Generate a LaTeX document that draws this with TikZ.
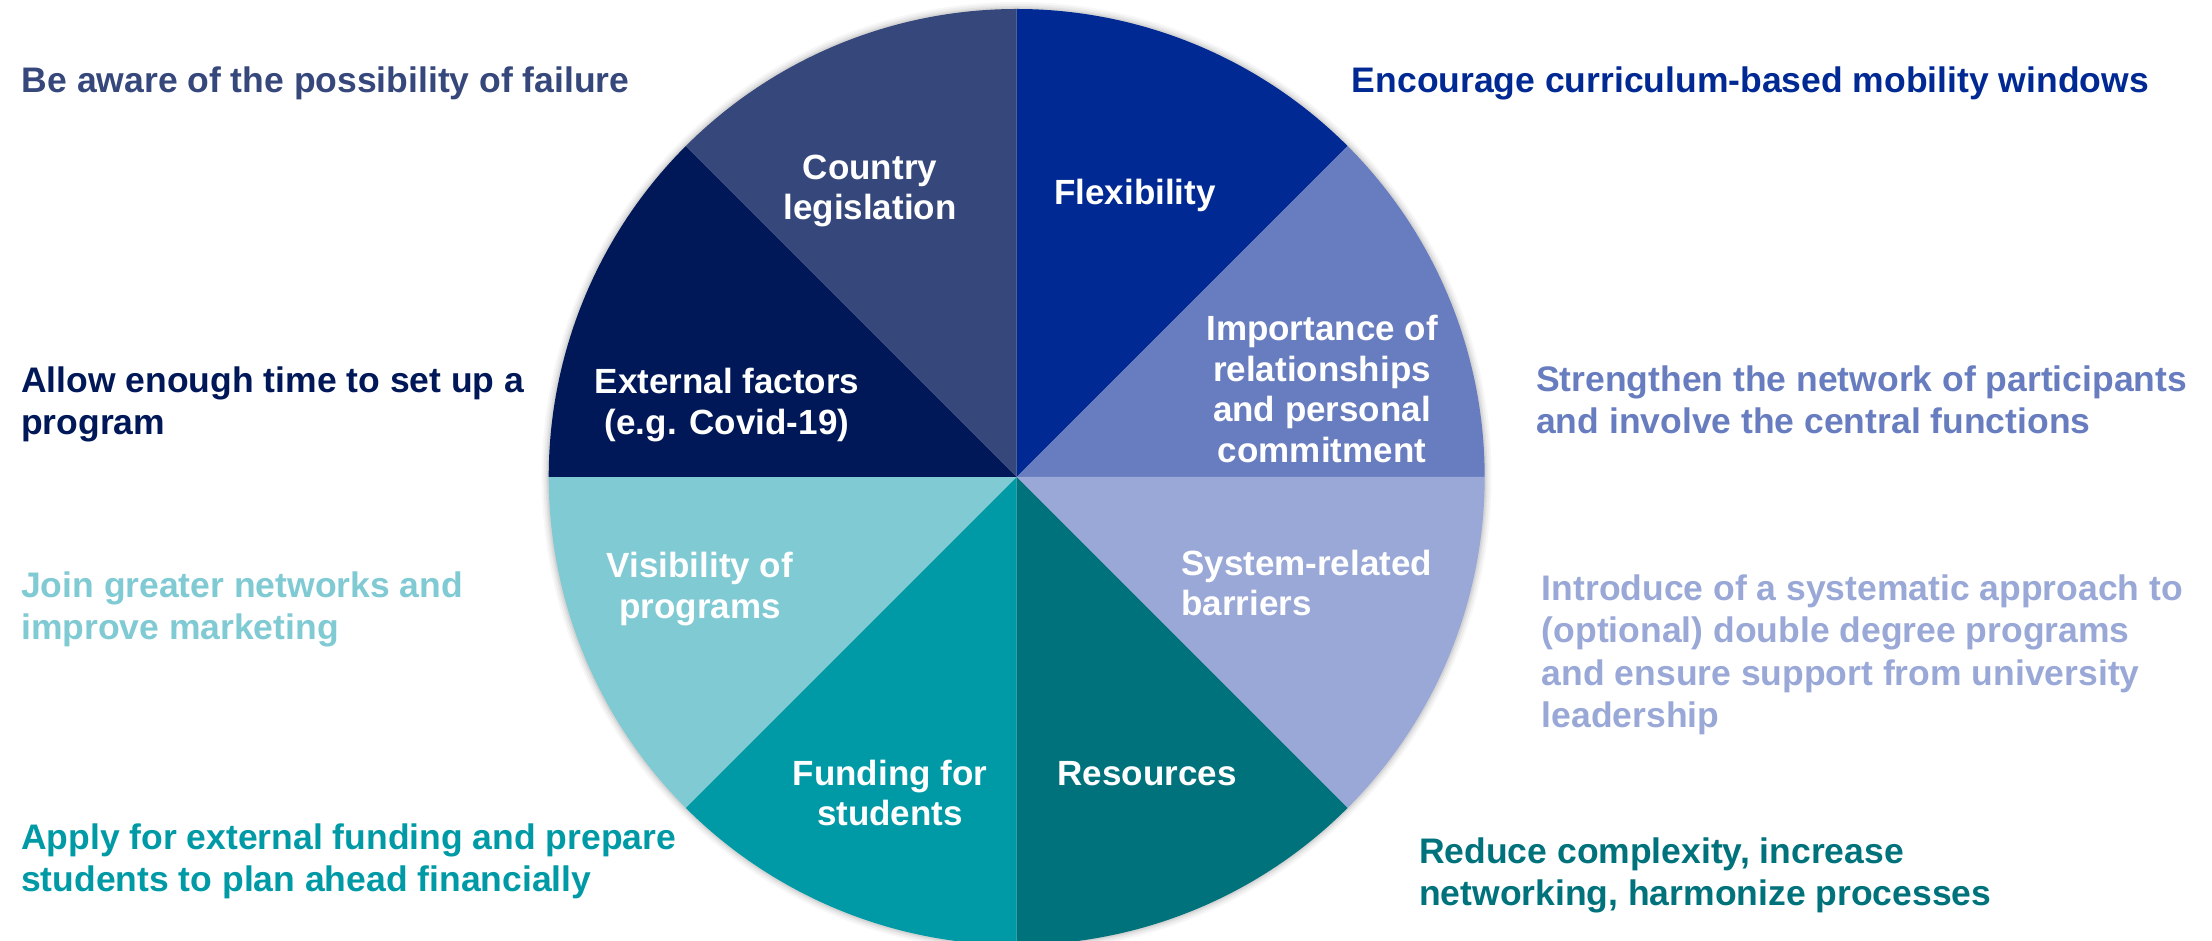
\documentclass[tikz,border=0pt]{standalone}
\usepackage{fontspec}
\setmainfont{Liberation Sans}
\definecolor{cflex}{HTML}{002993}
\definecolor{cimp}{HTML}{687DBF}
\definecolor{csys}{HTML}{99A8D6}
\definecolor{cres}{HTML}{00727C}
\definecolor{cfund}{HTML}{009AA6}
\definecolor{cvis}{HTML}{80CAD3}
\definecolor{cext}{HTML}{001858}
\definecolor{ccountry}{HTML}{36477B}
\begin{document}
\begin{tikzpicture}[x=1pt,y=1pt,
  seglabel/.style={text=white, font=\fontsize{35}{40.5}\selectfont\bfseries, align=center, inner sep=0pt},
  outer/.style={font=\fontsize{35.5}{42.5}\selectfont\bfseries, align=left, anchor=base west, inner sep=0pt}]
\useasboundingbox (0,0) rectangle (2212,941);
\coordinate (O) at (1016.7,464);
% soft shadow
\foreach \i/\o in {7/0.03,5/0.04,3/0.05,1.5/0.06}
  \fill[black,opacity=\o] (O) circle (468+\i);
% sectors
\fill[cflex]    (O) -- ++(45:468)  arc[start angle=45,  end angle=90,  radius=468] -- cycle;
\fill[cimp]     (O) -- ++(0:468)   arc[start angle=0,   end angle=45,  radius=468] -- cycle;
\fill[csys]     (O) -- ++(-45:468) arc[start angle=-45, end angle=0,   radius=468] -- cycle;
\fill[cres]     (O) -- ++(-90:468) arc[start angle=-90, end angle=-45, radius=468] -- cycle;
\fill[cfund]    (O) -- ++(-135:468) arc[start angle=-135,end angle=-90, radius=468] -- cycle;
\fill[cvis]     (O) -- ++(180:468) arc[start angle=180, end angle=225, radius=468] -- cycle;
\fill[cext]     (O) -- ++(135:468) arc[start angle=135, end angle=180, radius=468] -- cycle;
\fill[ccountry] (O) -- ++(90:468)  arc[start angle=90,  end angle=135, radius=468] -- cycle;
% segment labels
\node[seglabel] (country) at (870,750) {Country\\legislation};
\node[seglabel] (flex) at (1135,746) {Flexibility};
\node[seglabel] (imp) at (1322,552) {Importance of\\relationships\\and personal\\commitment};
\node[seglabel, align=left, anchor=west] (sys) at (1181,358) {System-related\\barriers};
\node[seglabel] (res) at (1147,167) {Resources};
\node[seglabel] (fund) at (890,148) {Funding for\\students};
\node[seglabel] (vis) at (700,352) {Visibility of\\programs};
\node[seglabel] (ext) at (727,536) {External factors\\(e.g. Covid-19)};
% outer texts (base anchor = baseline of last line)
\node[outer, text=ccountry] (aware) at (21.7,848.7) {Be aware of the possibility of failure};
\node[outer, text=cext] (allow) at (21,506) {Allow enough time to set up a\\program};
\node[outer, text=cvis] (join) at (21,301) {Join greater networks and\\improve marketing};
\node[outer, text=cfund] (apply) at (21,49) {Apply for external funding and prepare\\students to plan ahead financially};
\node[outer, text=cflex] (enc) at (1351.7,848.7) {Encourage curriculum-based mobility windows};
\node[outer, text=cimp] (str) at (1536,507) {Strengthen the network of participants\\and involve the central functions};
\node[outer, text=csys] (intro) at (1541.7,213) {Introduce of a systematic approach to\\(optional) double degree programs\\and ensure support from university\\leadership};
\node[outer, text=cres] (red) at (1419,35) {Reduce complexity, increase\\networking, harmonize processes};
\end{tikzpicture}
\end{document}
